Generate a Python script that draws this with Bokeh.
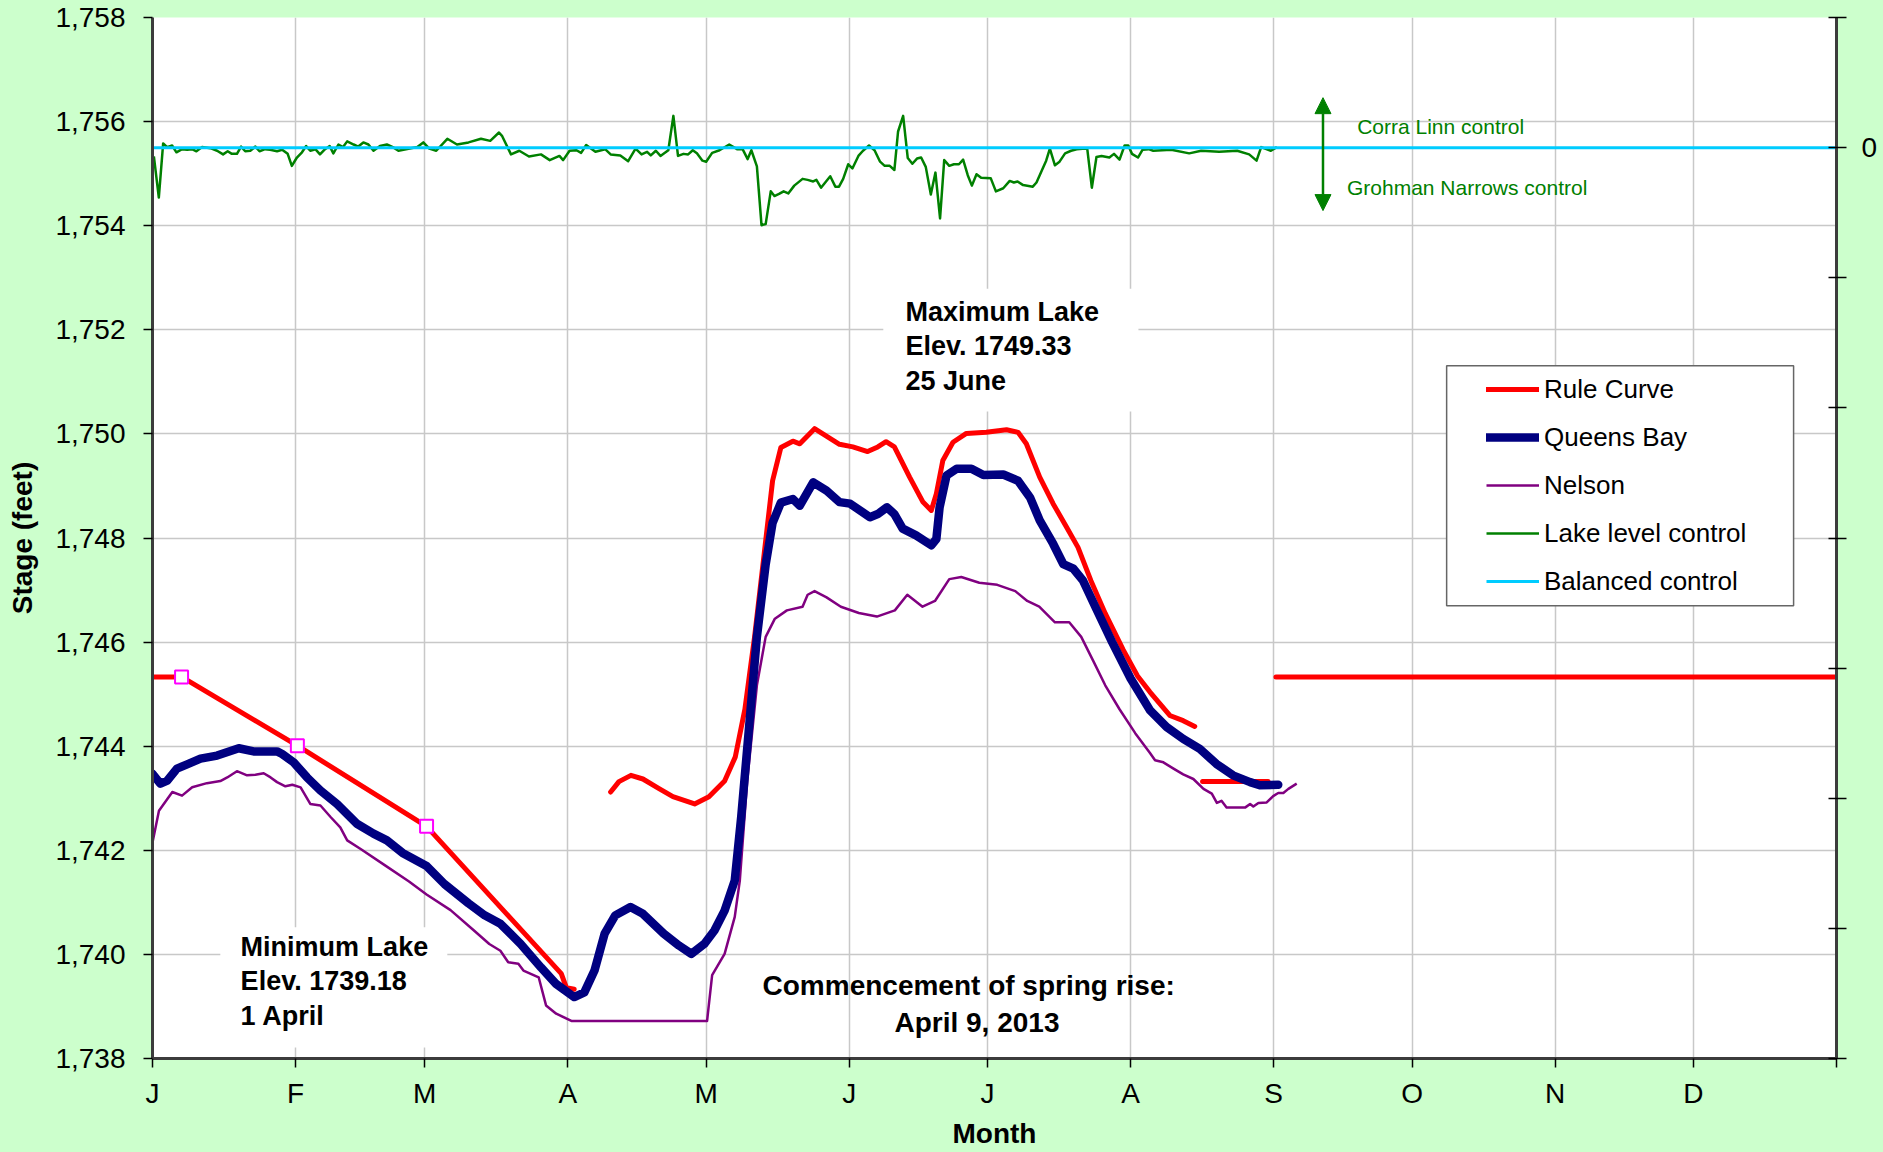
import numpy as np
from bokeh.plotting import figure
from bokeh.models import (Range1d, LinearAxis, FixedTicker, NumeralTickFormatter,
                          Legend, LegendItem, Label, Arrow, NormalHead, BoxAnnotation)
from bokeh.embed import file_html
from bokeh.resources import INLINE

nan = float("nan")

# ---------------- data (day of year, stage in feet) ----------------
MONTH_DAYS = [0, 31, 59, 90, 120, 151, 181, 212, 243, 273, 304, 334]
MONTH_LABELS = ["J", "F", "M", "A", "M", "J", "J", "A", "S", "O", "N", "D"]
Y_TICKS = list(range(1738, 1759, 2))
CTRL_TICKS = list(range(-7, 2))

RC_DAY = [0, 6.3, 31.4, 59.4, 88.6, 89.7, 91.4, nan,
          99.3, 101.1, 103.7, 106.3, 109.7, 112.8, 117.5, 120.6, 124.0, 126.3, 128.4,
          130.5, 132.6, 134.4, 136.2, 138.8, 140.3, 143.5, 148.9, 151.8, 155.0, 157.2,
          159.0, 160.8, 164.1, 167.0, 168.8, 169.9, 171.3, 173.5, 176.4, 180.7, 185.1,
          187.6, 189.4, 192.3, 195.2, 198.1, 200.6, 203.4, 206.5, 210.4, 213.5, 216.2,
          220.5, 223.4, 225.9, nan, 227.6, 241.8, nan, 243.5, 365]
RC_VAL = [1745.33, 1745.33, 1744.01, 1742.46, 1739.63, 1739.36, 1739.33, nan,
          1743.12, 1743.32, 1743.44, 1743.37, 1743.19, 1743.03, 1742.89, 1743.03, 1743.33,
          1743.79, 1744.71, 1746.10, 1747.71, 1749.10, 1749.74, 1749.86, 1749.81, 1750.10,
          1749.80, 1749.75, 1749.66, 1749.75, 1749.85, 1749.75, 1749.17, 1748.69, 1748.53,
          1748.85, 1749.49, 1749.84, 1750.01, 1750.03, 1750.08, 1750.03, 1749.81, 1749.17,
          1748.66, 1748.21, 1747.82, 1747.18, 1746.55, 1745.85, 1745.35, 1745.04, 1744.59,
          1744.49, 1744.38, nan, 1743.32, 1743.32, nan, 1745.33, 1745.33]

RC_MARK_DAY = [6.3, 31.4, 59.4]
RC_MARK_VAL = [1745.33, 1744.01, 1742.46]

QB_DAY = [0, 1.7, 3.2, 5.3, 7.5, 10.4, 14.0, 18.7, 21.9, 27.0, 28.1, 30.6, 33.5, 36.4,
          40.0, 44.3, 47.9, 50.8, 54.2, 59.4, 63.3, 68.5, 72.0, 75.4, 79.8, 84.2, 87.5,
          91.4, 93.6, 95.8, 98.0, 100.3, 103.6, 106.3, 110.8, 114.1, 116.8, 119.6, 121.8,
          124.0, 126.2, 127.6, 129.2, 131.0, 132.9, 134.4, 136.2, 138.8, 140.3, 143.2,
          146.1, 148.9, 151.2, 155.5, 157.2, 159.2, 160.8, 162.6, 165.5, 168.8, 169.9,
          170.6, 172.1, 174.3, 177.5, 180.1, 184.4, 187.6, 190.2, 192.3, 195.2, 197.4,
          199.6, 201.7, 204.5, 208.0, 212.0, 216.2, 219.8, 223.4, 227.0, 230.6, 234.2,
          237.9, 240.0, 244.0]
QB_VAL = [1743.47, 1743.28, 1743.34, 1743.57, 1743.65, 1743.76, 1743.82, 1743.96, 1743.90,
          1743.90, 1743.85, 1743.69, 1743.40, 1743.15, 1742.89, 1742.51, 1742.32, 1742.19,
          1741.95, 1741.70, 1741.35, 1740.98, 1740.75, 1740.59, 1740.20, 1739.75, 1739.43,
          1739.18, 1739.27, 1739.69, 1740.40, 1740.75, 1740.91, 1740.78, 1740.40, 1740.17,
          1740.01, 1740.20, 1740.46, 1740.84, 1741.42, 1742.64, 1744.26, 1746.10, 1747.49,
          1748.29, 1748.68, 1748.75, 1748.62, 1749.07, 1748.91, 1748.69, 1748.66, 1748.40,
          1748.46, 1748.59, 1748.46, 1748.18, 1748.05, 1747.86, 1747.98, 1748.59, 1749.20,
          1749.33, 1749.33, 1749.21, 1749.22, 1749.10, 1748.78, 1748.34, 1747.89, 1747.50,
          1747.41, 1747.18, 1746.65, 1746.00, 1745.30, 1744.69, 1744.37, 1744.14, 1743.95,
          1743.66, 1743.44, 1743.31, 1743.25, 1743.26]

NE_DAY = [0, 1.4, 4.3, 6.4, 8.6, 11.8, 14.7, 16.2, 18.3, 20.5, 22.3, 24.1, 25.6, 27.0,
          28.8, 30.3, 32.1, 34.2, 36.4, 38.6, 40.7, 42.2, 45.2, 50.4, 55.6, 59.4, 64.6,
          69.8, 73.0, 75.4, 77.1, 79.3, 80.4, 83.7, 85.3, 87.5, 90.9, 120.2, 121.3, 124.0,
          126.2, 127.3, 128.9, 131.0, 132.9, 134.9, 137.5, 140.9, 142.0, 143.5, 146.1,
          149.2, 153.1, 157.0, 160.9, 163.6, 166.9, 169.6, 172.7, 175.3, 179.2, 183.1,
          187.0, 189.6, 192.2, 195.6, 198.7, 201.3, 203.9, 206.5, 209.6, 213.0, 216.2,
          217.3, 219.1, 221.3, 223.4, 225.6, 227.8, 229.6, 230.7, 231.7, 232.8, 236.8,
          237.9, 238.6, 239.7, 241.5, 242.9, 244.0, 245.1, 246.2, 248.0]
NE_VAL = [1742.15, 1742.76, 1743.12, 1743.05, 1743.21, 1743.29, 1743.33, 1743.40, 1743.52,
          1743.44, 1743.45, 1743.48, 1743.40, 1743.31, 1743.23, 1743.26, 1743.21, 1742.89,
          1742.86, 1742.64, 1742.44, 1742.19, 1742.02, 1741.71, 1741.40, 1741.15, 1740.85,
          1740.45, 1740.20, 1740.07, 1739.85, 1739.82, 1739.69, 1739.56, 1739.02, 1738.86,
          1738.72, 1738.72, 1739.60, 1740.01, 1740.72, 1741.42, 1743.33, 1745.17, 1746.10,
          1746.45, 1746.61, 1746.68, 1746.91, 1746.98, 1746.86, 1746.68, 1746.56, 1746.49,
          1746.61, 1746.91, 1746.68, 1746.79, 1747.21, 1747.25, 1747.14, 1747.10, 1746.98,
          1746.79, 1746.68, 1746.38, 1746.38, 1746.10, 1745.64, 1745.17, 1744.71, 1744.25,
          1743.87, 1743.73, 1743.69, 1743.57, 1743.46, 1743.37, 1743.18, 1743.09, 1742.91,
          1742.95, 1742.82, 1742.82, 1742.89, 1742.84, 1742.91, 1742.92, 1743.04, 1743.10,
          1743.10, 1743.18, 1743.28]

LLC_DAY = [0.3, 1.37, 2.31, 3.17, 4.25, 5.19, 6.41, 7.5, 8.58, 9.52, 10.75, 12.55, 14.0,
           15.3, 16.3, 17.2, 18.3, 19.2, 20.1, 21.2, 22.3, 23.2, 24.4, 25.5, 27.0, 28.1,
           29.3, 30.2, 31.3, 32.4, 33.3, 34.2, 35.3, 36.3, 37.4, 38.4, 39.2, 40.3, 41.3,
           42.2, 43.6, 44.6, 45.7, 46.8, 47.9, 49.3, 50.8, 52.1, 53.3,
           55.5, 57.4, 58.7, 60.0, 61.5, 63.9, 66.0, 68.5, 71.2, 73.2, 75.1, 75.8, 77.7,
           79.5, 81.6, 84.2,
           86.1, 88.2, 89.0, 90.4, 91.9, 92.9, 94.0, 96.0, 98.1, 99.3, 101.4, 103.1, 104.7,
           106.0, 107.2, 108.0, 109.1, 110.1, 111.8, 112.9, 113.9, 115.1, 116.1, 117.1,
           118.0, 119.2, 120.0, 121.3, 122.9, 125.0, 126.7, 127.9, 129.0, 129.8, 131.0,
           132.0, 132.9, 134.0, 134.8, 135.8, 136.8, 137.8, 139.1, 140.9, 142.0, 143.2,
           143.9, 144.9, 146.9, 148.0, 148.8, 149.7, 150.8, 151.7, 153.0, 154.0, 155.3,
           156.5, 157.7, 158.7, 159.8, 160.8, 161.6, 162.7, 163.7, 164.7, 165.7, 166.6,
           167.6, 168.7, 169.7, 170.7, 171.6, 172.7, 173.7, 174.8, 175.7, 176.7, 177.6,
           178.6, 179.6, 181.7, 182.8, 184.4, 185.8, 186.7, 187.5, 188.7, 190.8, 191.6,
           192.9, 193.7, 194.5, 195.6, 196.6, 197.8, 199.1, 200.3, 201.6, 202.6, 203.6,
           204.6, 205.7, 207.4, 208.4, 209.6, 210.7, 211.5, 212.3, 213.6, 214.6, 215.9,
           216.9, 220.8, 224.7, 227.3, 231.2, 235.1, 237.7, 239.3, 240.3, 242.4, 243.7]
LLC_VAL = [1755.33, 1754.54, 1755.58, 1755.51, 1755.54, 1755.41, 1755.47, 1755.46, 1755.47,
           1755.43, 1755.51, 1755.49, 1755.44, 1755.37, 1755.43, 1755.38, 1755.38, 1755.52,
           1755.43, 1755.44, 1755.52, 1755.43, 1755.47, 1755.46, 1755.43, 1755.46, 1755.38,
           1755.15, 1755.31, 1755.41, 1755.53, 1755.44, 1755.47, 1755.37, 1755.47, 1755.53,
           1755.39, 1755.56, 1755.51, 1755.62, 1755.56, 1755.52, 1755.60, 1755.56, 1755.44,
           1755.53, 1755.56, 1755.51, 1755.44,
           1755.48, 1755.51, 1755.60, 1755.48, 1755.44, 1755.67, 1755.56, 1755.60, 1755.67,
           1755.63, 1755.79, 1755.72, 1755.37, 1755.44, 1755.33, 1755.37,
           1755.26, 1755.34, 1755.26, 1755.44, 1755.45, 1755.40, 1755.55, 1755.42, 1755.47,
           1755.37, 1755.35, 1755.24, 1755.48, 1755.37, 1755.42, 1755.35, 1755.44, 1755.34,
           1755.45, 1756.11, 1755.34, 1755.38, 1755.37, 1755.45, 1755.39, 1755.25, 1755.23,
           1755.40, 1755.45, 1755.56, 1755.47, 1755.47, 1755.28, 1755.45, 1755.14, 1754.01,
           1754.03, 1754.66, 1754.57, 1754.61, 1754.66, 1754.62, 1754.77, 1754.90, 1754.88,
           1754.85, 1754.88, 1754.73, 1754.95, 1754.75, 1754.75, 1754.90, 1755.18, 1755.10,
           1755.34, 1755.44, 1755.54, 1755.45, 1755.23, 1755.15, 1755.15, 1755.07, 1755.81,
           1756.11, 1755.30, 1755.19, 1755.29, 1755.31, 1755.13, 1754.60, 1755.02, 1754.14,
           1755.26, 1755.15, 1755.18, 1755.18, 1755.27, 1754.97, 1754.77, 1754.99, 1754.92,
           1754.91, 1754.66, 1754.72, 1754.86, 1754.83, 1754.85, 1754.78, 1754.75, 1754.83,
           1755.09, 1755.25, 1755.48, 1755.16, 1755.23, 1755.39, 1755.44, 1755.47, 1755.48,
           1755.48, 1754.73, 1755.32, 1755.34, 1755.31, 1755.38, 1755.27, 1755.54, 1755.54,
           1755.38, 1755.31, 1755.46, 1755.47,
           1755.44, 1755.46, 1755.39, 1755.44, 1755.42, 1755.44, 1755.37, 1755.25, 1755.51,
           1755.44, 1755.51]

BAL_DAY = [0, 365]
BAL_VAL = [0, 0]   # on the right-hand control axis

SERIES_NAMES = ["Rule Curve", "Queens Bay", "Nelson", "Lake level control", "Balanced control"]

ANNOT_MAX = ["Maximum Lake", "Elev. 1749.33", "25 June"]
ANNOT_MIN = ["Minimum Lake", "Elev. 1739.18", "1 April"]
ANNOT_SPRING = ["Commencement of spring rise:", "April 9, 2013"]
CTRL_UP = "Corra Linn control"
CTRL_DOWN = "Grohman Narrows control"

# ---------------- styles ----------------
BG = "#CCFFCC"
FONT = "Liberation Sans"
RED, NAVY, PURPLE, GREEN, CYAN, MAGENTA = "#FF0000", "#000080", "#800080", "#008000", "#00CCFF", "#FF00FF"
GRID = "#C8C8C8"
AXIS = "#3C3C3C"

p = figure(width=1883, height=1152, x_range=Range1d(0, 365), y_range=Range1d(1738, 1758),
           output_backend="svg", toolbar_location=None,
           min_border_left=152, min_border_right=47, min_border_top=17, min_border_bottom=94)
p.border_fill_color = BG
p.background_fill_color = "white"
p.outline_line_color = None
p.extra_y_ranges = {"ctrl": Range1d(-7, 1)}

# x axis
xa = p.xaxis[0]
xa.ticker = FixedTicker(ticks=MONTH_DAYS + [365])
ov = {d: l for d, l in zip(MONTH_DAYS, MONTH_LABELS)}
ov[365] = ""
xa.major_label_overrides = ov
xa.axis_label = "Month"
xa.axis_label_text_font = FONT
xa.axis_label_text_font_size = "28px"
xa.axis_label_text_font_style = "bold"
xa.axis_label_text_color = "black"
xa.axis_label_standoff = 6
xa.major_label_text_font = FONT
xa.major_label_text_font_size = "28px"
xa.major_label_text_color = "black"
xa.major_label_standoff = 10
xa.major_tick_in = 0
xa.major_tick_out = 9
xa.minor_tick_in = 0
xa.minor_tick_out = 0
xa.axis_line_width = 3
xa.axis_line_color = AXIS
xa.major_tick_line_color = "black"
xa.major_tick_line_width = 1.5

# left axis
ya = p.yaxis[0]
ya.ticker = FixedTicker(ticks=Y_TICKS)
ya.formatter = NumeralTickFormatter(format="0,0")
ya.axis_label = "Stage (feet)"
ya.axis_label_text_font = FONT
ya.axis_label_text_font_size = "28px"
ya.axis_label_text_font_style = "bold"
ya.axis_label_text_color = "black"
ya.axis_label_standoff = 14
ya.major_label_text_font = FONT
ya.major_label_text_font_size = "28px"
ya.major_label_text_color = "black"
ya.major_label_standoff = 18
ya.major_tick_in = 0
ya.major_tick_out = 9
ya.minor_tick_in = 0
ya.minor_tick_out = 0
ya.axis_line_width = 3
ya.axis_line_color = AXIS
ya.major_tick_line_color = "black"
ya.major_tick_line_width = 1.5

# right axis (control scale)
ra = LinearAxis(y_range_name="ctrl", ticker=FixedTicker(ticks=CTRL_TICKS),
                major_label_overrides={t: ("0" if t == 0 else "") for t in CTRL_TICKS})
ra.major_label_text_font = FONT
ra.major_label_text_font_size = "28px"
ra.major_label_text_color = "black"
ra.major_label_standoff = 15
ra.major_tick_in = 8
ra.major_tick_out = 10
ra.minor_tick_in = 0
ra.minor_tick_out = 0
ra.axis_line_width = 3
ra.axis_line_color = AXIS
ra.major_tick_line_color = "black"
ra.major_tick_line_width = 1.5
p.add_layout(ra, "right")

# grids
p.xgrid.ticker = FixedTicker(ticks=MONTH_DAYS)
p.ygrid.ticker = FixedTicker(ticks=Y_TICKS)
for g in (p.xgrid, p.ygrid):
    g.grid_line_color = GRID
    g.grid_line_width = 1.5

# series
r_ne = p.line(np.array(NE_DAY), np.array(NE_VAL), line_color=PURPLE, line_width=2.5, line_join="round")
r_rc = p.line(np.array(RC_DAY), np.array(RC_VAL), line_color=RED, line_width=5, line_join="round", line_cap="round")
r_qb = p.line(np.array(QB_DAY), np.array(QB_VAL), line_color=NAVY, line_width=8.5, line_join="round", line_cap="round")
p.scatter(RC_MARK_DAY, RC_MARK_VAL, marker="square", size=13, fill_color="white",
          line_color=MAGENTA, line_width=2)
r_llc = p.line(np.array(LLC_DAY), np.array(LLC_VAL), line_color=GREEN, line_width=2.5, line_join="round")
r_bal = p.line(BAL_DAY, BAL_VAL, y_range_name="ctrl", line_color=CYAN, line_width=3)

# white boxes behind annotations and legend
p.add_layout(BoxAnnotation(left=158.4, right=213.7, top=1752.79, bottom=1750.43,
                           fill_color="white", fill_alpha=1, line_alpha=0))
p.add_layout(BoxAnnotation(left=14.7, right=63.9, top=1740.52, bottom=1738.21,
                           fill_color="white", fill_alpha=1, line_alpha=0))
p.add_layout(BoxAnnotation(left=280.5, right=355.7, top=1751.31, bottom=1746.70,
                           fill_color="white", fill_alpha=1, line_color="#666666",
                           line_width=1.5, line_alpha=1))

# annotations
for txt, yv in zip(ANNOT_MAX, [1752.35, 1751.68, 1751.01]):
    p.add_layout(Label(x=163.2, y=yv, text=txt, text_font=FONT, text_font_size="27px",
                       text_font_style="bold", text_baseline="middle", text_align="left",
                       text_color="black"))
for txt, yv in zip(ANNOT_MIN, [1740.15, 1739.48, 1738.81]):
    p.add_layout(Label(x=19.1, y=yv, text=txt, text_font=FONT, text_font_size="27px",
                       text_font_style="bold", text_baseline="middle", text_align="left",
                       text_color="black"))
for txt, xv, yv in zip(ANNOT_SPRING, [176.9, 178.7], [1739.40, 1738.70]):
    p.add_layout(Label(x=xv, y=yv, text=txt, text_font=FONT, text_font_size="28px",
                       text_font_style="bold", text_baseline="middle", text_align="center",
                       text_color="black"))

p.add_layout(Label(x=261.1, y=1755.91, text=CTRL_UP, text_font=FONT, text_font_size="21px",
                   text_baseline="middle", text_align="left", text_color=GREEN))
p.add_layout(Label(x=258.9, y=1754.73, text=CTRL_DOWN, text_font=FONT, text_font_size="21px",
                   text_baseline="middle", text_align="left", text_color=GREEN))
p.add_layout(Arrow(start=NormalHead(size=16, fill_color=GREEN, line_color=GREEN),
                   end=NormalHead(size=16, fill_color=GREEN, line_color=GREEN),
                   x_start=253.7, y_start=1754.29, x_end=253.7, y_end=1756.46,
                   line_color=GREEN, line_width=2.5))

# legend
legend = Legend(items=[LegendItem(label=n, renderers=[r]) for n, r in
                       zip(SERIES_NAMES, [r_rc, r_qb, r_ne, r_llc, r_bal])],
                location=(1334, 453), orientation="vertical", padding=0, spacing=0, margin=0,
                glyph_width=53, glyph_height=48, label_height=48, label_standoff=5,
                label_text_font=FONT, label_text_font_size="26px", label_text_color="black",
                border_line_alpha=0, background_fill_alpha=0)
p.add_layout(legend)

html = file_html(p, INLINE, title="Kootenay Lake stage")
html = html.replace("</head>", "<style>body{background-color:#CCFFCC;}</style></head>", 1)
open("out.html", "w").write(html)
